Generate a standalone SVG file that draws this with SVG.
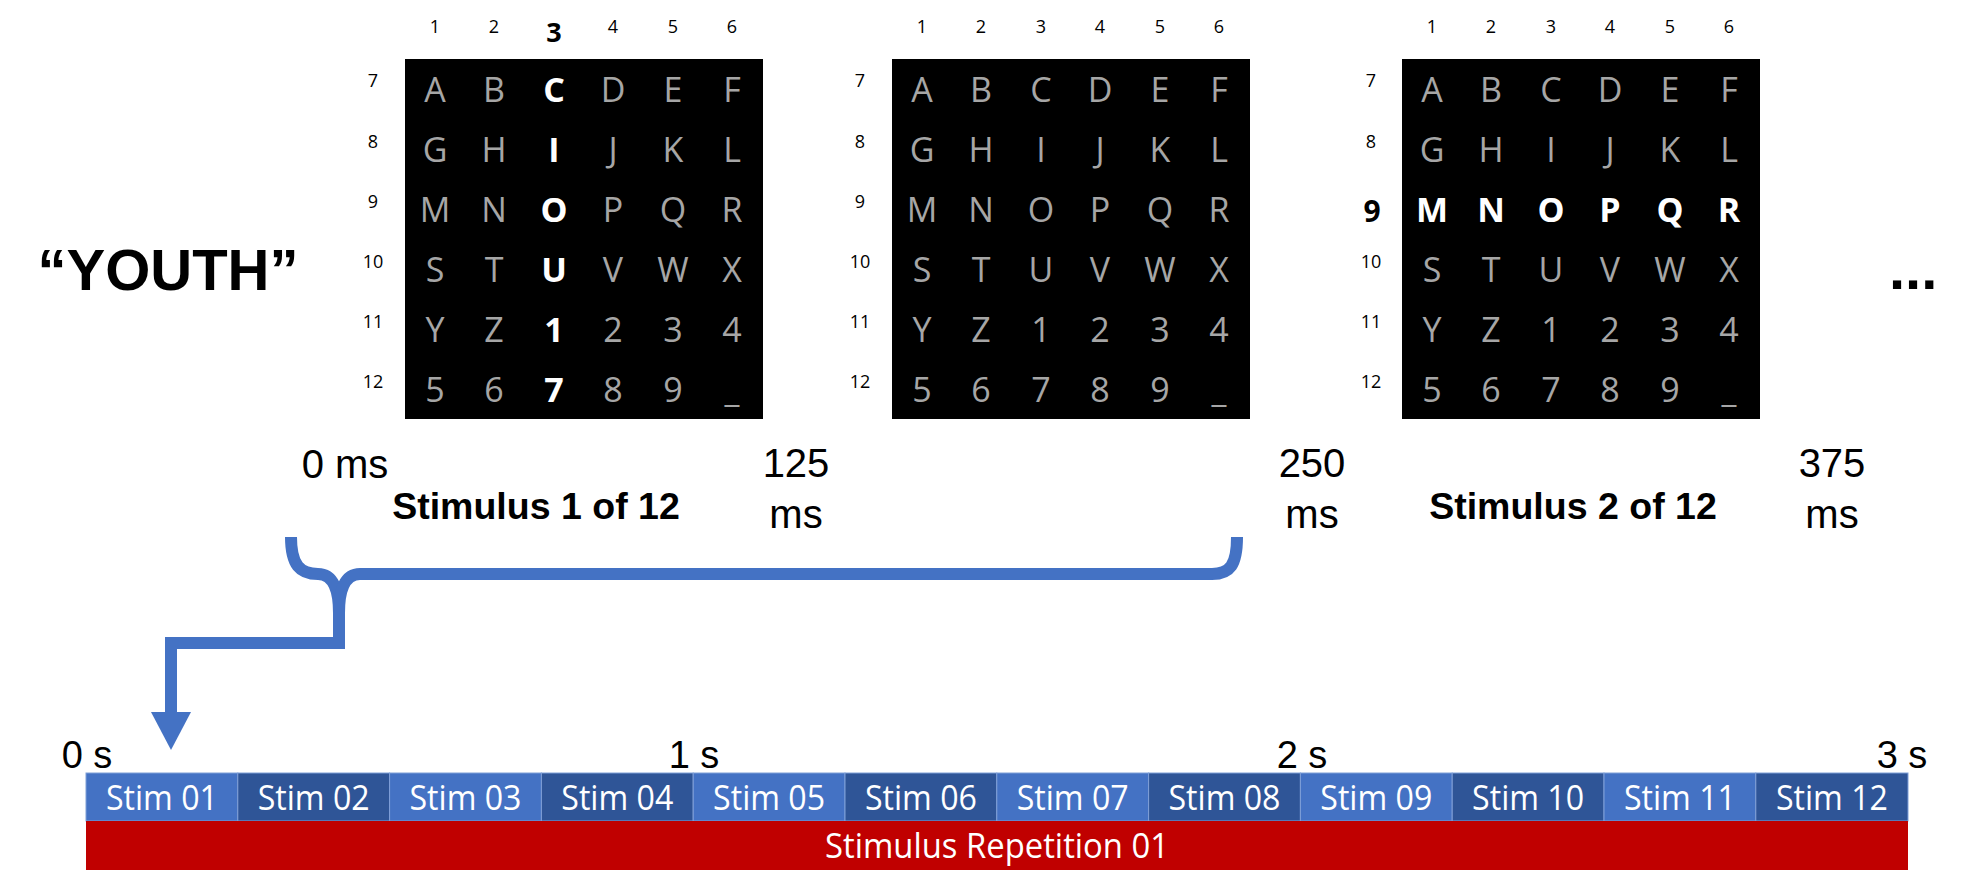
<svg xmlns="http://www.w3.org/2000/svg" width="1981" height="891" viewBox="0 0 1981 891">
<style>
.bg{fill:#ffffff}
.grid{fill:#000000}
.lt{font-family:"Open Sans","Noto Sans",sans-serif;font-size:34px;fill:#a6a6a6;text-anchor:middle}
.hl{font-family:"Open Sans","Noto Sans",sans-serif;font-size:34px;font-weight:bold;fill:#ffffff;text-anchor:middle}
.cn{font-family:"Open Sans","Noto Sans",sans-serif;font-size:18px;fill:#000000;text-anchor:middle}
.cb{font-family:"Open Sans","Noto Sans",sans-serif;font-weight:bold;fill:#000000;text-anchor:middle}
.ar{font-family:"Liberation Sans",Arial,sans-serif;font-size:40px;fill:#000000;text-anchor:middle}
.arb{font-family:"Liberation Sans",Arial,sans-serif;font-weight:bold;fill:#000000;text-anchor:middle}
.ts{font-family:"Liberation Sans",Arial,sans-serif;font-size:38px;fill:#000000;text-anchor:middle}
.st{font-family:"Open Sans","Noto Sans",sans-serif;font-size:35px;fill:#ffffff;text-anchor:middle}
.s1{fill:#4472c4;stroke:#7f9fd8;stroke-width:1}
.s2{fill:#2f5597;stroke:#7f9fd8;stroke-width:1}
.brace{fill:none;stroke:#4472c4;stroke-width:12;stroke-linecap:butt;stroke-linejoin:miter}
</style>
<rect class="bg" x="0" y="0" width="1981" height="891"/>

<g id="word">
<text class="arb" x="168" y="290" font-size="58">“YOUTH”</text>
</g>
<g id="ellipsis">
<text class="arb" x="1889" y="289" font-size="58" style="text-anchor:start">...</text>
</g>

<g id="grid1">
<rect class="grid" x="405" y="59" width="358" height="360"/>
<text class="cn" x="435" y="33">1</text><text class="cn" x="494" y="33">2</text><text class="cb" x="554" y="42" font-size="27">3</text><text class="cn" x="613" y="33">4</text><text class="cn" x="673" y="33">5</text><text class="cn" x="732" y="33">6</text>
<text class="cn" x="373" y="87">7</text><text class="cn" x="373" y="148">8</text><text class="cn" x="373" y="208">9</text><text class="cn" x="373" y="268">10</text><text class="cn" x="373" y="328">11</text><text class="cn" x="373" y="388">12</text>
<text class="lt" x="435" y="102">A</text><text class="lt" x="494" y="102">B</text><text class="hl" x="554" y="102">C</text><text class="lt" x="613" y="102">D</text><text class="lt" x="673" y="102">E</text><text class="lt" x="732" y="102">F</text>
<text class="lt" x="435" y="162">G</text><text class="lt" x="494" y="162">H</text><text class="hl" x="554" y="162">I</text><text class="lt" x="613" y="162">J</text><text class="lt" x="673" y="162">K</text><text class="lt" x="732" y="162">L</text>
<text class="lt" x="435" y="222">M</text><text class="lt" x="494" y="222">N</text><text class="hl" x="554" y="222">O</text><text class="lt" x="613" y="222">P</text><text class="lt" x="673" y="222">Q</text><text class="lt" x="732" y="222">R</text>
<text class="lt" x="435" y="282">S</text><text class="lt" x="494" y="282">T</text><text class="hl" x="554" y="282">U</text><text class="lt" x="613" y="282">V</text><text class="lt" x="673" y="282">W</text><text class="lt" x="732" y="282">X</text>
<text class="lt" x="435" y="342">Y</text><text class="lt" x="494" y="342">Z</text><text class="hl" x="554" y="342">1</text><text class="lt" x="613" y="342">2</text><text class="lt" x="673" y="342">3</text><text class="lt" x="732" y="342">4</text>
<text class="lt" x="435" y="402">5</text><text class="lt" x="494" y="402">6</text><text class="hl" x="554" y="402">7</text><text class="lt" x="613" y="402">8</text><text class="lt" x="673" y="402">9</text><text class="lt" x="732" y="402">_</text>
</g>

<g id="grid2">
<rect class="grid" x="892" y="59" width="358" height="360"/>
<text class="cn" x="922" y="33">1</text><text class="cn" x="981" y="33">2</text><text class="cn" x="1041" y="33">3</text><text class="cn" x="1100" y="33">4</text><text class="cn" x="1160" y="33">5</text><text class="cn" x="1219" y="33">6</text>
<text class="cn" x="860" y="87">7</text><text class="cn" x="860" y="148">8</text><text class="cn" x="860" y="208">9</text><text class="cn" x="860" y="268">10</text><text class="cn" x="860" y="328">11</text><text class="cn" x="860" y="388">12</text>
<text class="lt" x="922" y="102">A</text><text class="lt" x="981" y="102">B</text><text class="lt" x="1041" y="102">C</text><text class="lt" x="1100" y="102">D</text><text class="lt" x="1160" y="102">E</text><text class="lt" x="1219" y="102">F</text>
<text class="lt" x="922" y="162">G</text><text class="lt" x="981" y="162">H</text><text class="lt" x="1041" y="162">I</text><text class="lt" x="1100" y="162">J</text><text class="lt" x="1160" y="162">K</text><text class="lt" x="1219" y="162">L</text>
<text class="lt" x="922" y="222">M</text><text class="lt" x="981" y="222">N</text><text class="lt" x="1041" y="222">O</text><text class="lt" x="1100" y="222">P</text><text class="lt" x="1160" y="222">Q</text><text class="lt" x="1219" y="222">R</text>
<text class="lt" x="922" y="282">S</text><text class="lt" x="981" y="282">T</text><text class="lt" x="1041" y="282">U</text><text class="lt" x="1100" y="282">V</text><text class="lt" x="1160" y="282">W</text><text class="lt" x="1219" y="282">X</text>
<text class="lt" x="922" y="342">Y</text><text class="lt" x="981" y="342">Z</text><text class="lt" x="1041" y="342">1</text><text class="lt" x="1100" y="342">2</text><text class="lt" x="1160" y="342">3</text><text class="lt" x="1219" y="342">4</text>
<text class="lt" x="922" y="402">5</text><text class="lt" x="981" y="402">6</text><text class="lt" x="1041" y="402">7</text><text class="lt" x="1100" y="402">8</text><text class="lt" x="1160" y="402">9</text><text class="lt" x="1219" y="402">_</text>
</g>

<g id="grid3">
<rect class="grid" x="1402" y="59" width="358" height="360"/>
<text class="cn" x="1432" y="33">1</text><text class="cn" x="1491" y="33">2</text><text class="cn" x="1551" y="33">3</text><text class="cn" x="1610" y="33">4</text><text class="cn" x="1670" y="33">5</text><text class="cn" x="1729" y="33">6</text>
<text class="cn" x="1371" y="87">7</text><text class="cn" x="1371" y="148">8</text><text class="cb" x="1372" y="222" font-size="30">9</text><text class="cn" x="1371" y="268">10</text><text class="cn" x="1371" y="328">11</text><text class="cn" x="1371" y="388">12</text>
<text class="lt" x="1432" y="102">A</text><text class="lt" x="1491" y="102">B</text><text class="lt" x="1551" y="102">C</text><text class="lt" x="1610" y="102">D</text><text class="lt" x="1670" y="102">E</text><text class="lt" x="1729" y="102">F</text>
<text class="lt" x="1432" y="162">G</text><text class="lt" x="1491" y="162">H</text><text class="lt" x="1551" y="162">I</text><text class="lt" x="1610" y="162">J</text><text class="lt" x="1670" y="162">K</text><text class="lt" x="1729" y="162">L</text>
<text class="hl" x="1432" y="222">M</text><text class="hl" x="1491" y="222">N</text><text class="hl" x="1551" y="222">O</text><text class="hl" x="1610" y="222">P</text><text class="hl" x="1670" y="222">Q</text><text class="hl" x="1729" y="222">R</text>
<text class="lt" x="1432" y="282">S</text><text class="lt" x="1491" y="282">T</text><text class="lt" x="1551" y="282">U</text><text class="lt" x="1610" y="282">V</text><text class="lt" x="1670" y="282">W</text><text class="lt" x="1729" y="282">X</text>
<text class="lt" x="1432" y="342">Y</text><text class="lt" x="1491" y="342">Z</text><text class="lt" x="1551" y="342">1</text><text class="lt" x="1610" y="342">2</text><text class="lt" x="1670" y="342">3</text><text class="lt" x="1729" y="342">4</text>
<text class="lt" x="1432" y="402">5</text><text class="lt" x="1491" y="402">6</text><text class="lt" x="1551" y="402">7</text><text class="lt" x="1610" y="402">8</text><text class="lt" x="1670" y="402">9</text><text class="lt" x="1729" y="402">_</text>
</g>

<g id="time-labels">
<text class="ar" x="345" y="478">0 ms</text>
<text class="ar" x="796" y="477">125</text><text class="ar" x="796" y="528">ms</text>
<text class="ar" x="1312" y="477">250</text><text class="ar" x="1312" y="528">ms</text>
<text class="ar" x="1832" y="477">375</text><text class="ar" x="1832" y="528">ms</text>
<text class="arb" x="536" y="519" font-size="37.5">Stimulus 1 of 12</text>
<text class="arb" x="1573" y="519" font-size="37.5">Stimulus 2 of 12</text>
</g>

<g id="connectors">
<path class="brace" d="M291 537 C291 565 300 574 318 574 C333 574 339 590 339 613"/>
<path class="brace" d="M339 613 C339 590 345 574 360 574 L1212 574 C1230 574 1237 565 1237 537"/>
<path class="brace" d="M339 612 L339 643 L171 643 L171 713"/>
<polygon points="151,712 191,712 171,750" fill="#4472c4"/>
</g>

<g id="timeline-ticks">
<text class="ts" x="87" y="768">0 s</text>
<text class="ts" x="694" y="768">1 s</text>
<text class="ts" x="1302" y="768">2 s</text>
<text class="ts" x="1902" y="768">3 s</text>
</g>

<g id="stim-bar">
<rect class="s1" x="86" y="773" width="151.8" height="48"/>
<rect class="s2" x="237.8" y="773" width="151.8" height="48"/>
<rect class="s1" x="389.6" y="773" width="151.8" height="48"/>
<rect class="s2" x="541.4" y="773" width="151.8" height="48"/>
<rect class="s1" x="693.2" y="773" width="151.8" height="48"/>
<rect class="s2" x="845" y="773" width="151.8" height="48"/>
<rect class="s1" x="996.8" y="773" width="151.8" height="48"/>
<rect class="s2" x="1148.6" y="773" width="151.8" height="48"/>
<rect class="s1" x="1300.4" y="773" width="151.8" height="48"/>
<rect class="s2" x="1452.2" y="773" width="151.8" height="48"/>
<rect class="s1" x="1604" y="773" width="151.8" height="48"/>
<rect class="s2" x="1755.8" y="773" width="152.2" height="48"/>
<text class="st" x="161.9" y="810" textLength="112" lengthAdjust="spacingAndGlyphs">Stim 01</text>
<text class="st" x="313.7" y="810" textLength="112" lengthAdjust="spacingAndGlyphs">Stim 02</text>
<text class="st" x="465.5" y="810" textLength="112" lengthAdjust="spacingAndGlyphs">Stim 03</text>
<text class="st" x="617.3" y="810" textLength="112" lengthAdjust="spacingAndGlyphs">Stim 04</text>
<text class="st" x="769.1" y="810" textLength="112" lengthAdjust="spacingAndGlyphs">Stim 05</text>
<text class="st" x="920.9" y="810" textLength="112" lengthAdjust="spacingAndGlyphs">Stim 06</text>
<text class="st" x="1072.7" y="810" textLength="112" lengthAdjust="spacingAndGlyphs">Stim 07</text>
<text class="st" x="1224.5" y="810" textLength="112" lengthAdjust="spacingAndGlyphs">Stim 08</text>
<text class="st" x="1376.3" y="810" textLength="112" lengthAdjust="spacingAndGlyphs">Stim 09</text>
<text class="st" x="1528.1" y="810" textLength="112" lengthAdjust="spacingAndGlyphs">Stim 10</text>
<text class="st" x="1679.9" y="810" textLength="112" lengthAdjust="spacingAndGlyphs">Stim 11</text>
<text class="st" x="1831.9" y="810" textLength="112" lengthAdjust="spacingAndGlyphs">Stim 12</text>
</g>

<g id="repetition-bar">
<rect x="86" y="821" width="1822" height="49" fill="#c00000"/>
<text class="st" x="997" y="858" textLength="344" lengthAdjust="spacingAndGlyphs">Stimulus Repetition 01</text>
</g>
</svg>
